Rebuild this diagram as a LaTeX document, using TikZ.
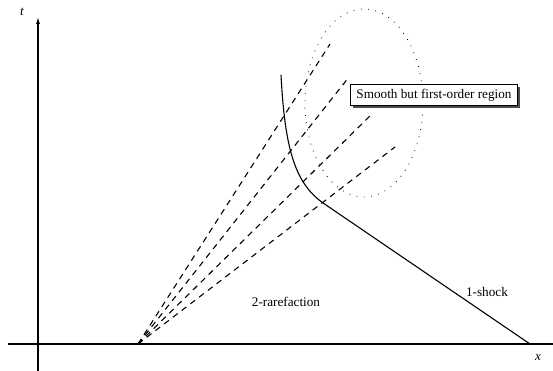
\documentclass[tikz,border=0pt]{standalone}
\usepackage{fontspec}
\setmainfont{Liberation Serif}
\usetikzlibrary{arrows.meta, shadows, positioning}

\begin{document}
\begin{tikzpicture}[x=1pt, y=-1pt,
        lbl/.style={font=\fontsize{13.2}{16}\selectfont, inner sep=0pt},
        axis/.style={line width=1.1pt},
        fan/.style={line width=1.1pt, dash pattern=on 6pt off 5pt},
        e/.style={line width=1.1pt},
        regbox/.style={draw, line width=0.9pt, fill=white, lbl, inner xsep=6pt,
                       minimum height=21pt, drop shadow={shadow xshift=2.5pt, shadow yshift=-2.5pt, fill=black!70, opacity=1}}]
        \useasboundingbox (0,0) rectangle (553,371);

        % axes
        \coordinate (xl) at (8,344);  \coordinate (xr) at (553,344);
        \coordinate (yb) at (38,371); \coordinate (yt) at (38,17);
        \draw[axis] (xl) -- (xr);
        \draw[axis, -{Latex[length=7pt, width=4pt]}] (yb) -- (yt);
        \node[lbl] (tlab) at (22,12) {\textit{t}};
        \node[lbl] (xlab) at (538,357) {\textit{x}};

        % rarefaction fan
        \coordinate (O) at (138,344);
        \foreach \i/\px/\py in {1/330/44, 2/349/77, 3/372/114, 4/395/147}
        \draw[fan] (O) -- (\px,\py) coordinate (E\i);

        % shock
        \coordinate (s0) at (281,75);
        \coordinate (s1) at (326,205);
        \coordinate (s2) at (530,344);
        \draw[e] (s0) .. controls (285,150) and (295,185) .. (s1) -- (s2);

        % region
        \draw[line width=0.8pt, dash pattern=on 0.8pt off 6.5pt] (364,103) ellipse [x radius=59pt, y radius=94pt];
        \node[regbox] (region) at (434,95) {Smooth but first-order region};

        \node[lbl] (rare) at (286,302) {2-rarefaction};
        \node[lbl] (shock) at (487,292) {1-shock};
      \end{tikzpicture}
\end{document}
